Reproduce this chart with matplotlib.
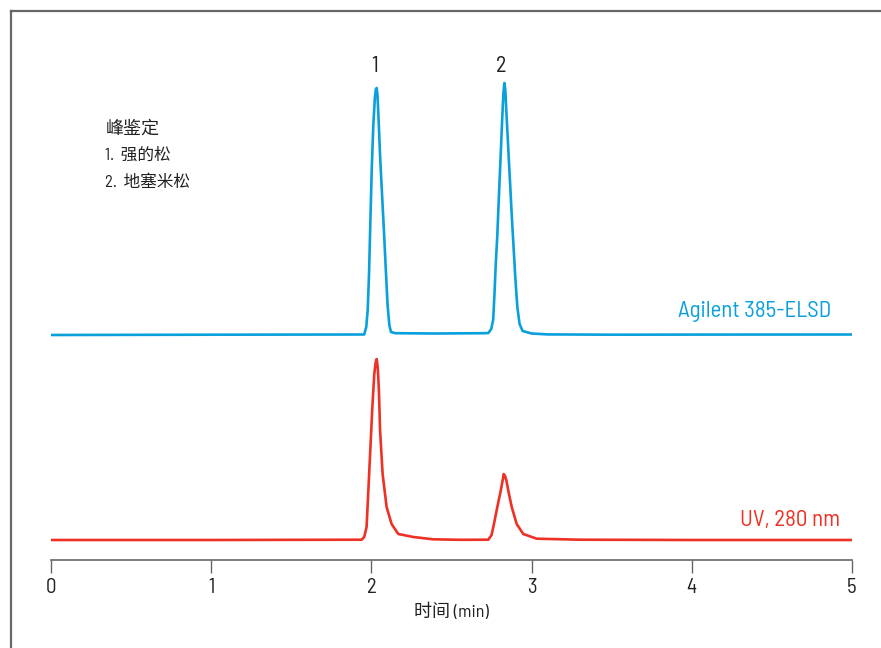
import matplotlib
matplotlib.use("Agg")
import matplotlib.pyplot as plt
from matplotlib.lines import Line2D
from matplotlib import font_manager

# ── data (signal in arbitrary units) ───────────────────────────────────────
elsd_t = [0.0, 1.0, 1.94, 1.955, 1.968, 1.977, 1.985, 1.993, 2.002, 2.012,
          2.022, 2.028, 2.033, 2.038, 2.045, 2.054, 2.065, 2.078, 2.090,
          2.101, 2.112, 2.122, 2.15, 2.4, 2.70, 2.730, 2.748, 2.760, 2.768,
          2.776, 2.786, 2.795, 2.803, 2.811, 2.817, 2.824, 2.830, 2.836,
          2.842, 2.850, 2.858, 2.867, 2.876, 2.886, 2.898, 2.911, 2.925,
          2.944, 3.0, 3.1, 3.5, 4.0, 5.0]
elsd_y = [0.0, 0.3, 0.5, 0.5, 8, 25, 60, 110, 165, 210,
          238, 246, 247, 240, 215, 180, 145, 105, 65,
          30, 10, 3, 1.8, 1.5, 1.8, 2, 6, 15, 40,
          70, 100, 135, 165, 195, 218, 242, 252, 245,
          225, 200, 175, 148, 120, 92, 58, 28, 11,
          4, 1.5, 0.6, 0.3, 0.4, 0.5]

uv_t = [0.0, 1.0, 1.939, 1.955, 1.970, 1.991, 2.006, 2.018, 2.027, 2.033,
        2.040, 2.047, 2.054, 2.070, 2.095, 2.126, 2.168, 2.262, 2.385,
        2.55, 2.730, 2.750, 2.765, 2.786, 2.807, 2.822, 2.826, 2.834,
        2.842, 2.855, 2.876, 2.907, 2.948, 3.032, 3.3, 4.0, 5.0]
uv_y = [0.0, 0.0, 0.3, 3, 13, 83, 133, 166, 178, 181,
        172, 149, 110, 66, 33, 16, 6, 3, 0.7,
        0.2, 0.3, 5, 16, 33, 49, 62, 66, 64,
        60, 49, 33, 16, 6, 1.3, 0.3, 0.0, 0.0]

uv_offset = 20
elsd_offset = 225

peak_times = [2.03, 2.82]
peak_labels = ["1", "2"]
legend_title = "峰鉴定"
legend_items = ["1.  强的松", "2.  地塞米松"]
xticks = [0, 1, 2, 3, 4, 5]

BLUE = "#0aa0dc"
RED = "#ee3124"
GREY = "#666666"
INK = "#222222"

names = {f.name for f in font_manager.fontManager.ttflist}
latin = next((n for n in ("Barlow Semi Condensed", "Barlow Condensed",
                          "Archivo Narrow", "Liberation Sans Narrow")
              if n in names), "DejaVu Sans")
FONT = [latin, "Noto Sans CJK SC", "DejaVu Sans"]
plt.rcParams["font.family"] = FONT

fig = plt.figure(figsize=(8.81, 6.48), dpi=100)
ax = fig.add_axes([51 / 881, 88 / 648, 801 / 881, 540 / 648])

ax.plot(elsd_t, [v + elsd_offset for v in elsd_y], color=BLUE, lw=1.9,
        solid_joinstyle="round")
ax.plot(uv_t, [v + uv_offset for v in uv_y], color=RED, lw=1.9,
        solid_joinstyle="round")

ax.set_xlim(0, 5)
ax.set_ylim(0, 540)
for s in ("left", "right", "top"):
    ax.spines[s].set_visible(False)
ax.spines["bottom"].set_color(GREY)
ax.spines["bottom"].set_linewidth(1.2)
ax.set_yticks([])
ax.set_xticks(xticks)
ax.tick_params(axis="x", direction="out", length=9, width=1, color=GREY,
               labelsize=15, pad=4, labelcolor=INK)
ax.set_xlabel("时间 (min)", fontsize=13, color=INK, labelpad=4)

# peak numbers
for t, lab in zip(peak_times, peak_labels):
    ax.text(t - 0.01, 494, lab, ha="center", va="center", fontsize=16,
            color=INK)

# peak identification block
ax.text(0.34, 432, legend_title, ha="left", va="center", fontsize=13,
        color=INK)
for i, item in enumerate(legend_items):
    ax.text(0.34, 405 - 27 * i, item, ha="left", va="center", fontsize=12,
            color=INK)

# trace names
ax.text(4.87, 248, "Agilent 385-ELSD", ha="right", va="center",
        fontsize=16.5, color=BLUE)
ax.text(4.925, 40, "UV, 280 nm", ha="right", va="center",
        fontsize=16.5, color=RED)

# page frame (left and top rules)
fig.add_artist(Line2D([11 / 881, 11 / 881], [0, 1 - 11 / 648],
                      transform=fig.transFigure, color=GREY, lw=1.6))
fig.add_artist(Line2D([11 / 881, 1], [1 - 11 / 648, 1 - 11 / 648],
                      transform=fig.transFigure, color=GREY, lw=1.6))

fig.savefig("out.png", dpi=100)
